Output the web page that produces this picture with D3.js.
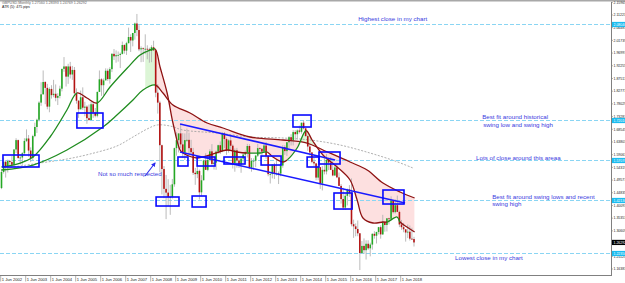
<!DOCTYPE html>
<html><head><meta charset="utf-8">
<script src="https://cdn.jsdelivr.net/npm/d3@7"></script>
<style>html,body{margin:0;padding:0;background:#fff;}svg{display:block;}</style>
</head><body><svg id="c" width="625" height="283"></svg>
<script>
// ---- DATA (GBPUSD monthly, Jun 2002 .. Dec 2018) ----
const open = [
1.4660,1.5260,1.5640,1.5450,1.5670,1.5630,1.5530,
1.6100,1.6450,1.5780,1.5800,1.5960,1.6420,1.6510,1.6060,1.5780,1.6600,1.6940,1.7210,
1.7850,1.8160,1.8620,1.8400,1.7700,1.8360,1.8130,1.8180,1.8030,1.8100,1.8370,1.9110,
1.9200,1.8820,1.9200,1.8900,1.9070,1.8200,1.7920,1.7600,1.8050,1.7660,1.7700,1.7270,
1.7200,1.7790,1.7480,1.7360,1.8250,1.8720,1.8500,1.8680,1.9040,1.8730,1.9100,1.9670,
1.9580,1.9620,1.9630,1.9670,2.0000,1.9790,2.0070,2.0300,2.0170,2.0450,2.0804,2.0560,
1.9840,1.9880,1.9860,1.9860,1.9840,1.9780,1.9920,1.9800,1.8220,1.7850,1.6260,1.5370,
1.4630,1.4490,1.4320,1.4330,1.4800,1.6150,1.6450,1.6700,1.6290,1.5980,1.6450,1.6460,
1.6150,1.6000,1.5230,1.5180,1.5300,1.4500,1.4950,1.5690,1.5340,1.5710,1.6030,1.5560,
1.5610,1.6020,1.6260,1.6040,1.6700,1.6490,1.6060,1.6440,1.6240,1.5590,1.6070,1.5690,
1.5540,1.5760,1.5910,1.5990,1.6230,1.5420,1.5680,1.5680,1.5870,1.6150,1.6130,1.6020,
1.6250,1.5860,1.5180,1.5180,1.5530,1.5190,1.5210,1.5200,1.5500,1.6190,1.6040,1.6370,
1.6560,1.6440,1.6750,1.6670,1.6810,1.6760,1.7100,1.6890,1.6600,1.6210,1.5990,1.5640,
1.5580,1.5050,1.5440,1.4830,1.5340,1.5280,1.5710,1.5610,1.5340,1.5130,1.5430,1.5060,
1.4740,1.4250,1.3930,1.4370,1.4610,1.4480,1.3310,1.3230,1.3130,1.2970,1.2235,1.2500,
1.2340,1.2580,1.2410,1.2550,1.2950,1.2880,1.3020,1.3200,1.2930,1.3400,1.3280,1.3530,
1.3510,1.4190,1.3760,1.4020,1.3770,1.3300,1.3200,1.3120,1.3000,1.3030,1.2770,1.2756];
const high = [
1.5370,1.5800,1.5700,1.5720,1.5710,1.5860,1.6110,
1.6520,1.6470,1.5930,1.6000,1.6520,1.6850,1.6640,1.6180,1.6650,1.7100,1.7250,1.7900,
1.8610,1.9050,1.8650,1.8550,1.8420,1.8500,1.8700,1.8530,1.8200,1.8480,1.9110,1.9550,
1.9220,1.9300,1.9370,1.9220,1.9180,1.8380,1.7950,1.8300,1.8420,1.7880,1.7750,1.7780,
1.7880,1.7880,1.7650,1.8260,1.9050,1.8760,1.8750,1.9130,1.9120,1.9170,1.9700,1.9850,
1.9800,1.9760,1.9720,2.0130,2.0030,2.0120,2.0650,2.0400,2.0450,2.0840,2.1160,2.0740,
1.9950,1.9910,2.0400,1.9990,1.9900,1.9990,2.0160,1.9830,1.8540,1.7920,1.6280,1.5480,
1.5150,1.4990,1.4780,1.5000,1.6170,1.6740,1.6700,1.7040,1.6710,1.6700,1.6880,1.6730,
1.6460,1.6160,1.5410,1.5520,1.5350,1.5140,1.5720,1.5960,1.5820,1.6110,1.6300,1.5880,
1.6060,1.6280,1.6400,1.6750,1.6750,1.6550,1.6480,1.6620,1.6290,1.6140,1.6160,1.5780,
1.5800,1.5980,1.6060,1.6310,1.6300,1.5780,1.5770,1.5900,1.6310,1.6180,1.6130,1.6310,
1.6380,1.5890,1.5230,1.5550,1.5600,1.5750,1.5280,1.5720,1.6260,1.6260,1.6380,1.6600,
1.6670,1.6820,1.6820,1.6850,1.6990,1.7100,1.7190,1.6890,1.6650,1.6290,1.6000,1.5790,
1.5590,1.5550,1.5450,1.5480,1.5820,1.5930,1.5730,1.5820,1.5660,1.5510,1.5510,1.5240,
1.4810,1.4670,1.4460,1.4640,1.4770,1.5020,1.3480,1.3340,1.3450,1.2980,1.2680,1.2780,
1.2710,1.2710,1.2620,1.2970,1.3050,1.3030,1.3210,1.3270,1.3660,1.3410,1.3540,1.3550,
1.4350,1.4220,1.4240,1.4380,1.3820,1.3470,1.3360,1.3120,1.3300,1.3260,1.3180,1.2839];
const low = [
1.4620,1.5200,1.5050,1.5240,1.5390,1.5420,1.5450,
1.5970,1.5760,1.5540,1.5530,1.5900,1.6380,1.5830,1.5630,1.5700,1.6560,1.6720,1.7150,
1.7730,1.8150,1.7790,1.7600,1.7490,1.8000,1.8050,1.7900,1.7760,1.8010,1.8270,1.9000,
1.8450,1.8550,1.8750,1.8700,1.8150,1.7810,1.7280,1.7600,1.7580,1.7340,1.7060,1.7170,
1.7200,1.7280,1.7300,1.7300,1.8250,1.8100,1.8130,1.8680,1.8660,1.8560,1.8990,1.9440,
1.9340,1.9380,1.9140,1.9650,1.9680,1.9630,2.0060,1.9740,1.9950,2.0200,2.0330,1.9770,
1.9360,1.9370,1.9660,1.9470,1.9340,1.9360,1.9780,1.8050,1.7440,1.5250,1.4420,1.4280,
1.3500,1.3990,1.3660,1.4270,1.4710,1.5870,1.5990,1.6150,1.5780,1.5710,1.6380,1.5920,
1.5890,1.5150,1.4780,1.5030,1.4230,1.4350,1.4950,1.5340,1.5290,1.5650,1.5490,1.5350,
1.5340,1.5940,1.5930,1.6000,1.6150,1.5900,1.5980,1.6110,1.5390,1.5270,1.5420,1.5410,
1.5230,1.5600,1.5600,1.5800,1.5370,1.5270,1.5340,1.5440,1.5820,1.5910,1.5830,1.6000,
1.5750,1.5100,1.4830,1.5020,1.5000,1.5130,1.4810,1.5100,1.5420,1.5900,1.5860,1.6150,
1.6250,1.6250,1.6460,1.6470,1.6700,1.6690,1.6850,1.6580,1.6050,1.5870,1.5590,1.5490,
1.4950,1.4950,1.4630,1.4570,1.5170,1.5170,1.5330,1.5330,1.5100,1.5110,1.5030,1.4740,
1.4080,1.3840,1.3840,1.4010,1.4330,1.3230,1.2800,1.2860,1.2860,1.1600,1.2210,1.2200,
1.1990,1.2350,1.2110,1.2360,1.2770,1.2590,1.2930,1.2770,1.2910,1.3030,1.3040,1.3300,
1.3460,1.3710,1.3710,1.3760,1.3200,1.3100,1.3010,1.2660,1.2790,1.2700,1.2720,1.2477];
const close = [
1.5260,1.5640,1.5450,1.5670,1.5630,1.5530,1.6100,
1.6450,1.5780,1.5800,1.5960,1.6420,1.6510,1.6060,1.5780,1.6600,1.6940,1.7210,1.7850,
1.8160,1.8620,1.8400,1.7700,1.8360,1.8130,1.8180,1.8030,1.8100,1.8370,1.9110,1.9200,
1.8820,1.9200,1.8900,1.9070,1.8200,1.7920,1.7600,1.8050,1.7660,1.7700,1.7270,1.7200,
1.7790,1.7480,1.7360,1.8250,1.8720,1.8500,1.8680,1.9040,1.8730,1.9100,1.9670,1.9580,
1.9620,1.9630,1.9670,2.0000,1.9790,2.0070,2.0300,2.0170,2.0450,2.0804,2.0560,1.9840,
1.9880,1.9860,1.9860,1.9840,1.9780,1.9920,1.9800,1.8220,1.7850,1.6260,1.5370,1.4630,
1.4490,1.4320,1.4330,1.4800,1.6150,1.6450,1.6700,1.6290,1.5980,1.6450,1.6460,1.6150,
1.6000,1.5230,1.5180,1.5300,1.4500,1.4950,1.5690,1.5340,1.5710,1.6030,1.5560,1.5610,
1.6020,1.6260,1.6040,1.6700,1.6490,1.6060,1.6440,1.6240,1.5590,1.6070,1.5690,1.5540,
1.5760,1.5910,1.5990,1.6230,1.5420,1.5680,1.5680,1.5870,1.6150,1.6130,1.6020,1.6250,
1.5860,1.5180,1.5180,1.5530,1.5190,1.5210,1.5200,1.5500,1.6190,1.6040,1.6370,1.6560,
1.6440,1.6750,1.6670,1.6810,1.6760,1.7100,1.6890,1.6600,1.6210,1.5990,1.5640,1.5580,
1.5050,1.5440,1.4830,1.5340,1.5280,1.5710,1.5610,1.5340,1.5130,1.5430,1.5060,1.4740,
1.4250,1.3930,1.4370,1.4610,1.4480,1.3310,1.3230,1.3130,1.2970,1.2235,1.2500,1.2340,
1.2580,1.2410,1.2550,1.2950,1.2880,1.3020,1.3200,1.2930,1.3400,1.3280,1.3530,1.3510,
1.4190,1.3760,1.4020,1.3770,1.3300,1.3200,1.3120,1.3000,1.3030,1.2770,1.2756,1.26292];

const dateTickIdx = [0,12,24,36,48,60,72,84,96,108,120,132,144,156,168,180,192];
const dateTickLabels = ["1 Jun 2002","1 Jun 2003","1 Jun 2004","1 Jun 2005","1 Jun 2006","1 Jun 2007",
 "1 Jun 2008","1 Jun 2009","1 Jun 2010","1 Jun 2011","1 Jun 2012","1 Jun 2013","1 Jun 2014",
 "1 Jun 2015","1 Jun 2016","1 Jun 2017","1 Jun 2018"];
const priceTicks = [2.15965,2.11223,2.06481,2.01739,1.96997,1.92255,1.87513,1.82771,1.78029,1.73287,
 1.68545,1.63803,1.59061,1.54319,1.49577,1.44835,1.40093,1.35351,1.30609,1.25867,1.21125,1.16383];

// fast moving average (month index, price, trend of following segment)
const fastIdx = [0,9,15.1,23.3,31.4,36.2,41,45.8,52.1,60.5,66.5,71.3,73.7,76.1,79.5,82.3,85.7,87.1,93.9,100.1,108.3,113.1,117.9,124.1,127.5,130.3,135.1,137.1,141.9,146.2,149.1,154.3,161.1,167.3,170.7,173.5,178.3,183.1,185.1,189.9,191.3,194.6,198.3];
const fastVal = [1.5446,1.5595,1.5819,1.6566,1.7574,1.8209,1.8022,1.7835,1.8433,1.9150,1.9628,1.9814,1.9852,1.9180,1.8209,1.7089,1.6080,1.5968,1.5782,1.5894,1.6080,1.6006,1.5968,1.5968,1.6006,1.5819,1.5632,1.5707,1.6155,1.6800,1.6454,1.5894,1.5446,1.4960,1.4213,1.3541,1.3355,1.3392,1.3392,1.3579,1.3392,1.3205,1.3019];
const fastTrend = ["up","up","up","up","up","dn","dn","up","up","up","up","up","dn","dn","dn","dn","dn","dn","dn","dn","dn","dn","up","up","dn","dn","dn","up","up","dn","dn","dn","dn","dn","dn","dn","dn","dn","up","up","dn","dn","dn"];
// slow moving average
const slowIdx = [0,15.1,31.4,48.7,55.4,63.1,67.9,73.7,77.5,82.3,90.5,98.7,106.3,119.3,135.1,146.7,154.3,167.3,175.5,183.1,191.3,198.3];
const slowVal = [1.5334,1.5520,1.6080,1.6939,1.7387,1.7947,1.8321,1.8508,1.8209,1.7761,1.7462,1.7089,1.6902,1.6566,1.6454,1.6342,1.6080,1.5632,1.5334,1.4848,1.4512,1.4288];
const slowTrend = ["up","up","up","up","up","up","up","dn","dn","dn","dn","dn","dn","dn","dn","dn","dn","dn","dn","dn","dn","dn"];
// long moving average (grey dotted)
const longIdx = [2.6,18.5,31.4,42.5,55.4,63.1,69.9,74.7,80.9,87.1,103.5,119.3,135.1,148.1,162.5,176.9,188.9,197.5];
const longVal = [1.5408,1.5595,1.5744,1.5931,1.6230,1.6566,1.6865,1.7014,1.6977,1.6827,1.6715,1.6566,1.6529,1.6454,1.6267,1.5968,1.5670,1.5408];
// shaded spans between the two averages
const fillFrom = [69.0,73.7,143.5,151.0];
const fillTo = [73.7,143.5,151.0,198.3];
const fillTrend = ["up","dn","up","dn"];

// horizontal levels
const levelPrices = [2.0804,1.7201,1.5707,1.4213,1.2235];
const lastPrice = 1.26292;
// trend lines [fromIdx, fromPrice, toIdx, toPrice]
const trendFromIdx = [85.7,85.7], trendFromVal = [1.7051,1.6006];
const trendToIdx = [160.1,193.7], trendToVal = [1.5707,1.4102];
// rectangles
const boxIdx0 = [0.7,36.2,84.7,93.9,106.8,124.6,139.9,146.7,152.4,74.2,91.5,159.6,183.1];
const boxIdx1 = [18.0,48.7,89.5,102.5,116.9,134.2,148.6,152.4,162.5,85.2,98.2,168.3,193.2];
const boxTop = [1.5894,1.7462,1.5819,1.5819,1.5819,1.5856,1.7387,1.5819,1.6006,1.4326,1.4363,1.4475,1.4587];
const boxBottom = [1.5446,1.6902,1.5483,1.5483,1.5558,1.5520,1.6939,1.5446,1.5558,1.3989,1.3952,1.3877,1.4064];
// annotations
const notes = ["Highest close in my chart","Best fit around historical","swing low and swing high",
 "Lots of close around this areaa","Best fit around swing lows and recent","swing high",
 "Lowest close in my chart","Not so much respected"];
const noteIdx = [171.2,230.7,231.2,227.8,235.5,235.5,217.7,46.3];
const notePrice = [2.0897,1.7247,1.6930,1.5720,1.4265,1.3980,1.1955,1.5128];
const arrowFrom = [68.9,1.5110], arrowTo = [73.7,1.5595];
const titleText = "GBPUSD,Monthly  1.27560 1.28393 1.24769 1.26292";
const atrText = "ATR (5): 475 pips";

// ---- DRAW ----
const W=625,H=283,plotR=611,plotT=2,plotB=275;
const svg = d3.select("#c");
const x = d3.scaleLinear().domain([0,198]).range([1.5,414]);
const y = d3.scaleLinear().domain([1.2235,2.0804]).range([253,23.5]);
const GREEN="#1f8c1f", RED="#8e1212";
svg.append("rect").attr("width",W).attr("height",H).attr("fill","#fff");
const defs = svg.append("defs");
defs.append("clipPath").attr("id","plot").append("rect").attr("x",0).attr("y",plotT).attr("width",plotR).attr("height",plotB-plotT);
const g = svg.append("g").attr("clip-path","url(#plot)");
let clipN=0;
function clipX(x0,x1){const id="cx"+(clipN++);defs.append("clipPath").attr("id",id).append("rect").attr("x",x0).attr("y",0).attr("width",Math.max(0,x1-x0)).attr("height",H);return `url(#${id})`;}
const lineGen = d3.line().x(d=>x(d[0])).y(d=>y(d[1])).curve(d3.curveCatmullRom.alpha(0.5));
const fastPts = fastIdx.map((m,i)=>[m,fastVal[i]]);
const slowPts = slowIdx.map((m,i)=>[m,slowVal[i]]);
const longPts = longIdx.map((m,i)=>[m,longVal[i]]);

// fills
const poly = lineGen(fastPts)+"L"+lineGen(slowPts.slice().reverse()).slice(1)+"Z";
fillFrom.forEach((f,k)=>{
  g.append("path").attr("d",poly).attr("fill",fillTrend[k]==="up"?"#dcf5d6":"#fde0e0")
   .attr("clip-path",clipX(x(f),x(fillTo[k])));
});

// long MA
g.append("path").attr("d",lineGen(longPts)).attr("fill","none").attr("stroke","#9a9a9a")
 .attr("stroke-width",0.8).attr("stroke-dasharray","2,1.5");

// level lines
levelPrices.forEach(p=>{
  const yy=Math.round(y(p))+0.5;
  g.append("line").attr("x1",0).attr("x2",plotR).attr("y1",yy).attr("y2",yy)
   .attr("stroke","#8ad5f3").attr("stroke-width",1).attr("stroke-dasharray","4,2");
});

// candles
const cg=g.append("g");
close.forEach((c,i)=>{
  const o=open[i], xi=x(i);
  cg.append("line").attr("x1",xi).attr("x2",xi).attr("y1",y(high[i])).attr("y2",y(low[i]))
    .attr("stroke","#b3b3b3").attr("stroke-width",0.9);
  const t=y(Math.max(o,c)), b=y(Math.min(o,c));
  cg.append("rect").attr("x",xi-0.8).attr("width",1.6).attr("y",t).attr("height",Math.max(0.8,b-t))
    .attr("fill",c>=o?"#25a825":"#b31212");
});

// coloured MA lines
function drawColored(pts,trend){
  const runs=[];let s=0;
  for(let i=1;i<pts.length-1;i++){ if(trend[i]!==trend[s]){runs.push([s,i,trend[s]]);s=i;} }
  runs.push([s,pts.length-1,trend[s]]);
  const d=lineGen(pts);
  runs.forEach((r,k)=>{
    const x0 = k===0?-20:x(pts[r[0]][0]);
    const x1 = k===runs.length-1?W:x(pts[r[1]][0]);
    g.append("path").attr("d",d).attr("fill","none").attr("stroke",r[2]==="up"?GREEN:RED)
     .attr("stroke-width",1.3).attr("clip-path",clipX(x0,x1));
  });
}
drawColored(slowPts,slowTrend);
drawColored(fastPts,fastTrend);

// trend lines
trendFromIdx.forEach((m,k)=>{
  g.append("line").attr("x1",x(m)).attr("y1",y(trendFromVal[k])).attr("x2",x(trendToIdx[k])).attr("y2",y(trendToVal[k]))
   .attr("stroke","#1a1aff").attr("stroke-width",1.6);
});
// boxes
boxIdx0.forEach((m,k)=>{
  g.append("rect").attr("x",x(m)).attr("y",y(boxTop[k])).attr("width",x(boxIdx1[k])-x(m))
   .attr("height",y(boxBottom[k])-y(boxTop[k])).attr("fill","none").attr("stroke","#0a0aff").attr("stroke-width",1.6);
});
// arrow
defs.append("marker").attr("id","ah").attr("viewBox","0 0 10 10").attr("refX",8).attr("refY",5)
 .attr("markerWidth",4).attr("markerHeight",4).attr("orient","auto")
 .append("path").attr("d","M0,0L10,5L0,10Z").attr("fill","#2a2aee");
g.append("line").attr("x1",x(arrowFrom[0])).attr("y1",y(arrowFrom[1])).attr("x2",x(arrowTo[0])).attr("y2",y(arrowTo[1]))
 .attr("stroke","#2a2aee").attr("stroke-width",1.1).attr("marker-end","url(#ah)");
// annotations
notes.forEach((t,k)=>{
  g.append("text").attr("x",x(noteIdx[k])).attr("y",y(notePrice[k])).text(t)
   .attr("font-family","Liberation Sans, Arial, sans-serif").attr("font-size",6.2).attr("fill","#3a3ae0");
});

// frame & axes
svg.append("line").attr("x1",0).attr("x2",W).attr("y1",0.75).attr("y2",0.75).attr("stroke","#a8a8a8").attr("stroke-width",1.5);
svg.append("line").attr("x1",plotR+0.5).attr("x2",plotR+0.5).attr("y1",plotT).attr("y2",plotB+1).attr("stroke","#808080").attr("stroke-width",1);
svg.append("line").attr("x1",0).attr("x2",plotR+1).attr("y1",plotB+0.5).attr("y2",plotB+0.5).attr("stroke","#808080").attr("stroke-width",1);
const fmt = d3.format(".5f");
const ax = svg.append("g").attr("font-family","Liberation Sans, Arial, sans-serif").attr("font-size",3.5).attr("fill","#222");
priceTicks.forEach(p=>{
  const yy=y(p);
  if(yy<plotT||yy>plotB+3) return;
  ax.append("line").attr("x1",plotR).attr("x2",plotR+2).attr("y1",yy).attr("y2",yy).attr("stroke","#808080").attr("stroke-width",0.6);
  ax.append("text").attr("x",plotR+2.5).attr("y",yy+1.3).text(fmt(p));
});
levelPrices.forEach(p=>{
  const yy=Math.round(y(p))+0.5;
  ax.append("rect").attr("x",plotR+1).attr("y",yy-2.6).attr("width",W-plotR-1).attr("height",5.2).attr("fill","#1cbcf0");
  ax.append("text").attr("x",plotR+2.5).attr("y",yy+1.3).text(fmt(p)).attr("fill","#fff");
});
{
  const yy=y(lastPrice);
  ax.append("rect").attr("x",plotR+1).attr("y",yy-2.6).attr("width",W-plotR-1).attr("height",5.2).attr("fill","#000");
  ax.append("text").attr("x",plotR+2.5).attr("y",yy+1.3).text(fmt(lastPrice)).attr("fill","#fff");
}
const dx = svg.append("g").attr("font-family","Liberation Sans, Arial, sans-serif").attr("font-size",4.1).attr("fill","#222");
dateTickIdx.forEach((m,k)=>{
  const xx=x(m);
  dx.append("line").attr("x1",xx-0.8).attr("x2",xx-0.8).attr("y1",plotB+1).attr("y2",plotB+6.5).attr("stroke","#808080").attr("stroke-width",0.6);
  dx.append("text").attr("x",xx+0.3).attr("y",plotB+5.6).text(dateTickLabels[k]);
});
// header texts
svg.append("text").attr("x",2).attr("y",3.8).text(titleText).attr("font-family","Liberation Sans, Arial, sans-serif").attr("font-size",3.6).attr("fill","#666");
svg.append("text").attr("x",2).attr("y",8.4).text(atrText).attr("font-family","Liberation Sans, Arial, sans-serif").attr("font-size",3.6).attr("fill","#111");
</script></body></html>
